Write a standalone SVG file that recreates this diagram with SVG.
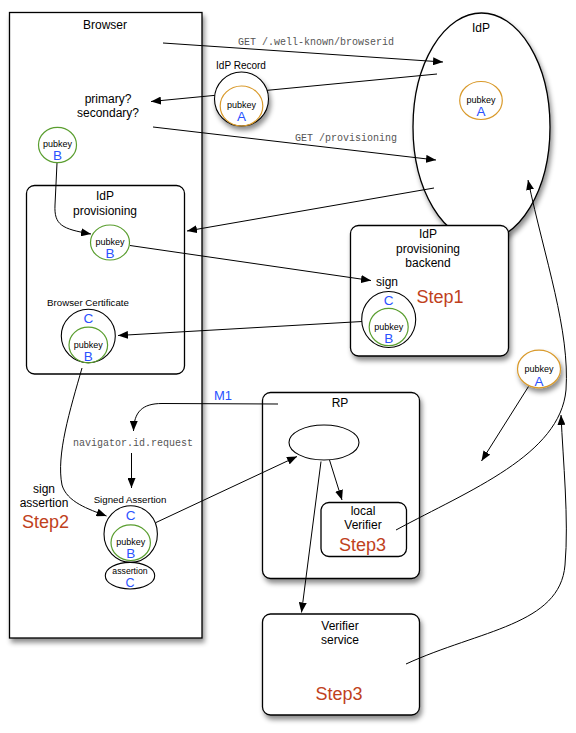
<svg xmlns="http://www.w3.org/2000/svg" width="576" height="733" viewBox="0 0 576 733">
<style>
text{font-family:"Liberation Sans",Arial,sans-serif;fill:#000;text-anchor:middle}
.lbl{font-size:12px}
.sm{font-size:9.7px}
.pk{font-size:9px}
.big{font-size:13.5px;fill:#2a52ff}
.step{font-size:18px;fill:#c0411c}
.mono{font-family:"Liberation Mono","Courier New",monospace;font-size:10px;fill:#555}
.box{fill:#fff;stroke:#000;stroke-width:1.3}
.g{fill:none;stroke:#5a9e2f;stroke-width:1.2}
.o{fill:none;stroke:#d99a2b;stroke-width:1.2}
.k{fill:#fff;stroke:#000;stroke-width:1.1}
.ln{fill:none;stroke:#000;stroke-width:1}
.ar{marker-end:url(#arr)}
</style>
<defs>
<marker id="arr" viewBox="0 0 10 8" refX="10" refY="4" markerWidth="10" markerHeight="8" orient="auto" markerUnits="userSpaceOnUse"><path d="M0,0 L10,4 L0,8 z" fill="#000"/></marker>
<filter id="sh" x="-20%" y="-20%" width="150%" height="150%"><feDropShadow dx="2" dy="4" stdDeviation="2.5" flood-color="#000" flood-opacity="0.45"/></filter>
</defs>

<g id="browser">
<rect class="box" x="9.5" y="12.5" width="192.5" height="625.5" filter="url(#sh)"/>
<text class="lbl" x="105" y="29">Browser</text>
<text class="lbl" x="108" y="103">primary?</text>
<text class="lbl" x="108" y="117">secondary?</text>
</g>

<g id="idp">
<ellipse class="box" cx="481.5" cy="127" rx="68.5" ry="114" filter="url(#sh)"/>
<text class="lbl" x="481" y="32">IdP</text>
</g>

<g id="idp-provisioning">
<rect class="box" x="26.5" y="185.5" width="158" height="188.5" rx="8"/>
<text class="lbl" x="105" y="200">IdP</text>
<text class="lbl" x="105" y="215">provisioning</text>
</g>

<g id="idp-provisioning-backend">
<rect class="box" x="350.5" y="225.5" width="158" height="130.5" rx="8" filter="url(#sh)"/>
<text class="lbl" x="428" y="238">IdP</text>
<text class="lbl" x="428" y="253">provisioning</text>
<text class="lbl" x="428" y="267">backend</text>
<text class="lbl" x="387" y="286">sign</text>
<text class="step" x="440" y="303">Step1</text>
</g>

<g id="rp">
<rect class="box" x="262.5" y="392.5" width="157" height="186" rx="8" filter="url(#sh)"/>
<text class="lbl" x="340" y="407">RP</text>
<ellipse class="k" cx="324" cy="442.5" rx="35" ry="17.5"/>
</g>

<g id="local-verifier">
<rect class="box" x="321" y="502.5" width="85.5" height="54" rx="8"/>
<text class="lbl" x="363" y="515">local</text>
<text class="lbl" x="363" y="529">Verifier</text>
<text class="step" x="362.5" y="551">Step3</text>
</g>

<g id="verifier-service">
<rect class="box" x="262.5" y="614" width="157" height="101" rx="8" filter="url(#sh)"/>
<text class="lbl" x="340" y="630">Verifier</text>
<text class="lbl" x="340" y="644">service</text>
<text class="step" x="339" y="700">Step3</text>
</g>

<g id="sign-assertion-label">
<text class="lbl" x="44" y="493">sign</text>
<text class="lbl" x="44" y="507">assertion</text>
<text class="step" x="45.5" y="528">Step2</text>
</g>

<g id="connectors">
<path class="ln ar" d="M163,43 L443,62"/>
<text class="mono" x="316" y="45">GET /.well-known/browserid</text>
<path class="ln ar" d="M437,74 L151,101.5"/>
<path class="ln ar" d="M153,127 L436,160"/>
<text class="mono" x="346" y="141">GET /provisioning</text>
<path class="ln ar" d="M434,188 L187,231"/>
<path class="ln ar" d="M57,163 L55,205 C54,225 62,229 91,234"/>
<path class="ln ar" d="M130,245.5 L371,280.5"/>
<path class="ln ar" d="M362,321.5 L118,335.5"/>
<path class="ln ar" d="M82,368 C70,410 56,455 62,485 C67,502 88,509 106.5,516"/>
<path class="ln ar" d="M278,404 L162,403.5 C142,403.5 134,412 133.5,431"/>
<text class="lbl" x="223" y="400" style="font-size:13px;fill:#2a52ff">M1</text>
<text class="mono" x="133" y="446">navigator.id.request</text>
<path class="ln ar" d="M131.5,453 L131.5,488"/>
<path class="ln ar" d="M156,522.5 L297,456.5"/>
<path class="ln ar" d="M329.5,460 L342,500"/>
<path class="ln ar" d="M321,461.5 L301.5,612.5"/>
<path class="ln ar" d="M528.5,386.5 L481.5,461"/>
<path class="ln ar" d="M396,530 C470,490 560,455 566,390 C570,330 545,260 528,180"/>
<path class="ln ar" d="M406,664 C480,630 560,625 565,565 C569,520 563,460 561,415"/>
</g>

<g id="idp-record">
<text class="sm" x="241" y="69" style="font-size:10px">IdP Record</text>
<circle class="k" cx="241.5" cy="99" r="27" filter="url(#sh)"/>
<ellipse class="o" cx="241.5" cy="106" rx="21.3" ry="20"/>
<text class="pk" x="241.5" y="108">pubkey</text>
<text class="big" x="241.5" y="121">A</text>
</g>

<g id="idp-pubkey-a">
<ellipse class="o" cx="481" cy="100.5" rx="21.3" ry="19"/>
<text class="pk" x="481" y="103">pubkey</text>
<text class="big" x="481" y="116">A</text>
</g>

<g id="browser-pubkey-b">
<ellipse class="g" cx="57.5" cy="145" rx="19" ry="17.7"/>
<text class="pk" x="57.5" y="147">pubkey</text>
<text class="big" x="57.5" y="160">B</text>
</g>

<g id="provisioning-pubkey-b">
<ellipse class="g" cx="110" cy="242.5" rx="19.5" ry="17.5"/>
<text class="pk" x="110" y="245">pubkey</text>
<text class="big" x="110" y="258">B</text>
</g>

<g id="browser-certificate">
<text class="sm" x="88" y="306">Browser Certificate</text>
<ellipse class="k" cx="88.3" cy="336" rx="27" ry="26.7"/>
<text class="big" x="88.3" y="323">C</text>
<ellipse class="g" cx="88.3" cy="345" rx="19.3" ry="17.8"/>
<text class="pk" x="88.3" y="348">pubkey</text>
<text class="big" x="88.3" y="361">B</text>
</g>

<g id="backend-certificate">
<ellipse class="k" cx="388.7" cy="319.5" rx="27" ry="28"/>
<text class="big" x="388.7" y="305">C</text>
<ellipse class="g" cx="388.7" cy="327" rx="19.5" ry="18.7"/>
<text class="pk" x="388.7" y="330">pubkey</text>
<text class="big" x="388.7" y="343">B</text>
</g>

<g id="pubkey-a">
<ellipse cx="539" cy="369" rx="21.5" ry="18.8" fill="#fff" stroke="#d99a2b" stroke-width="1.2" filter="url(#sh)"/>
<text class="pk" x="539" y="372">pubkey</text>
<text class="big" x="539" y="386">A</text>
</g>

<g id="signed-assertion">
<text class="sm" x="130" y="503">Signed Assertion</text>
<ellipse class="k" cx="130.7" cy="534" rx="26.7" ry="28.3"/>
<text class="big" x="130.7" y="520">C</text>
<ellipse class="g" cx="130.7" cy="542.7" rx="19.7" ry="17.8"/>
<text class="pk" x="130.7" y="545">pubkey</text>
<text class="big" x="130.7" y="558">B</text>
<ellipse class="k" cx="130" cy="575.7" rx="24.7" ry="13.3"/>
<text class="pk" x="130" y="574" style="font-size:8.7px">assertion</text>
<text class="big" x="130" y="587" style="font-size:12.5px">C</text>
</g>
</svg>
